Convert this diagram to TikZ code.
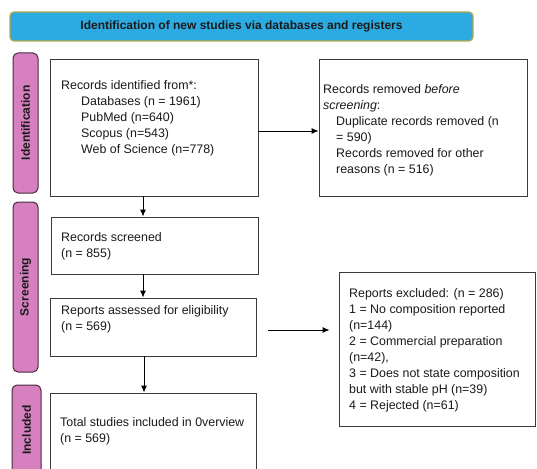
\documentclass[tikz,border=0pt]{standalone}
\usepackage{fontspec}
\setmainfont{Liberation Sans}
\usetikzlibrary{arrows.meta}
\definecolor{bannerfill}{HTML}{2BABE2}
\definecolor{bannerline}{HTML}{B8A848}
\definecolor{phasefill}{HTML}{D680C0}
\definecolor{phaseline}{HTML}{4A2A40}
\definecolor{boxline}{HTML}{3A3A3A}
\definecolor{txtcol}{HTML}{1A1A1A}
\tikzset{
  banner/.style={draw=bannerline, fill=bannerfill, line width=1.2pt, rounded corners=4pt, inner sep=0pt},
  phase/.style={draw=phaseline, fill=phasefill, line width=1pt, rounded corners=5pt, inner sep=0pt},
  phasetext/.style={rotate=90, font=\fontsize{12}{14}\selectfont\bfseries, text=txtcol},
  flowbox/.style={draw=boxline, fill=white, line width=0.9pt, inner sep=0pt},
  txt/.style={anchor=north west, align=left, inner sep=0pt, text=txtcol, font=\fontsize{12.4}{16}\selectfont},
  arr/.style={-{Latex[length=7pt,width=6pt]}, line width=0.9pt, draw=black},
}
\begin{document}
\begin{tikzpicture}[x=1pt, y=-1pt]
\useasboundingbox (0,0) rectangle (537,468);
\clip (0,0) rectangle (537,468);
% banner
\node[banner, minimum width=463pt, minimum height=29pt] (ban) at (241.5,26.5) {};
\node[font=\fontsize{12}{14}\selectfont\bfseries, text=txtcol, inner sep=0pt] (bant) at (ban.center) {Identification of new studies via databases and registers};
% phase labels
\node[phase, minimum width=25pt, minimum height=140pt] (p1) at (25.5,123) {};
\node[phasetext] (p1t) at (p1.center) {Identification};
\node[phase, minimum width=25pt, minimum height=170pt] (p2) at (25.5,287) {};
\node[phasetext] (p2t) at (p2.center) {Screening};
\node[phase, minimum width=29pt, minimum height=90pt] (p3) at (26.5,430) {};
\node[phasetext] (p3t) at (p3.center) {Included};
% boxes
\node[flowbox, minimum width=208pt, minimum height=137pt] (b1) at (154,127.5) {};
\node[flowbox, minimum width=208pt, minimum height=137pt] (b5) at (423,127.5) {};
\node[flowbox, minimum width=207pt, minimum height=57pt] (b2) at (154.5,245.5) {};
\node[flowbox, minimum width=206pt, minimum height=58pt] (b3) at (153,327) {};
\node[flowbox, minimum width=196pt, minimum height=154pt] (b6) at (437,349) {};
\node[flowbox, minimum width=206pt, minimum height=87pt] (b4) at (153,436.5) {};
% texts
\node[txt] (t1) at (61,80) {Records identified from*:\\
\hspace*{20pt}Databases (n = 1961)\\
\hspace*{20pt}PubMed (n=640)\\
\hspace*{20pt}Scopus (n=543)\\
\hspace*{20pt}Web of Science (n=778)};
\node[txt] (t5) at (323,84) {Records removed \textit{before}\\
\textit{screening}:\\
\hspace*{13pt}Duplicate records removed (n\\
\hspace*{13pt}= 590)\\
\hspace*{13pt}Records removed for other\\
\hspace*{13pt}reasons (n = 516)};
\node[txt] (t2) at (61,232) {Records screened\\(n = 855)};
\node[txt] (t3) at (61,305) {Reports assessed for eligibility\\(n = 569)};
\node[txt] (t6) at (349,288) {Reports excluded: (n = 286)\\
1 = No composition reported\\
(n=144)\\
2 = Commercial preparation\\
(n=42),\\
3 = Does not state composition\\
but with stable pH (n=39)\\
4 = Rejected (n=61)};
\node[txt] (t4) at (60,417) {Total studies included in 0verview\\(n = 569)};
% connectors
\draw[arr] ([xshift=-11pt]b1.south) -- ([xshift=-11.5pt]b2.north);
\draw[arr] ([xshift=-11.5pt]b2.south) -- ([xshift=-10pt]b3.north);
\draw[arr] ([xshift=-9pt]b3.south) -- ([xshift=-9pt]b4.north);
\draw[arr] ([yshift=-3.5pt]b1.east) -- ([yshift=-3.5pt]b5.west);
\draw[arr, shorten <=12pt, shorten >=9pt] ([yshift=-3pt]b3.east) -- ([yshift=-3pt]b3.east -| b6.west);
\end{tikzpicture}
\end{document}
